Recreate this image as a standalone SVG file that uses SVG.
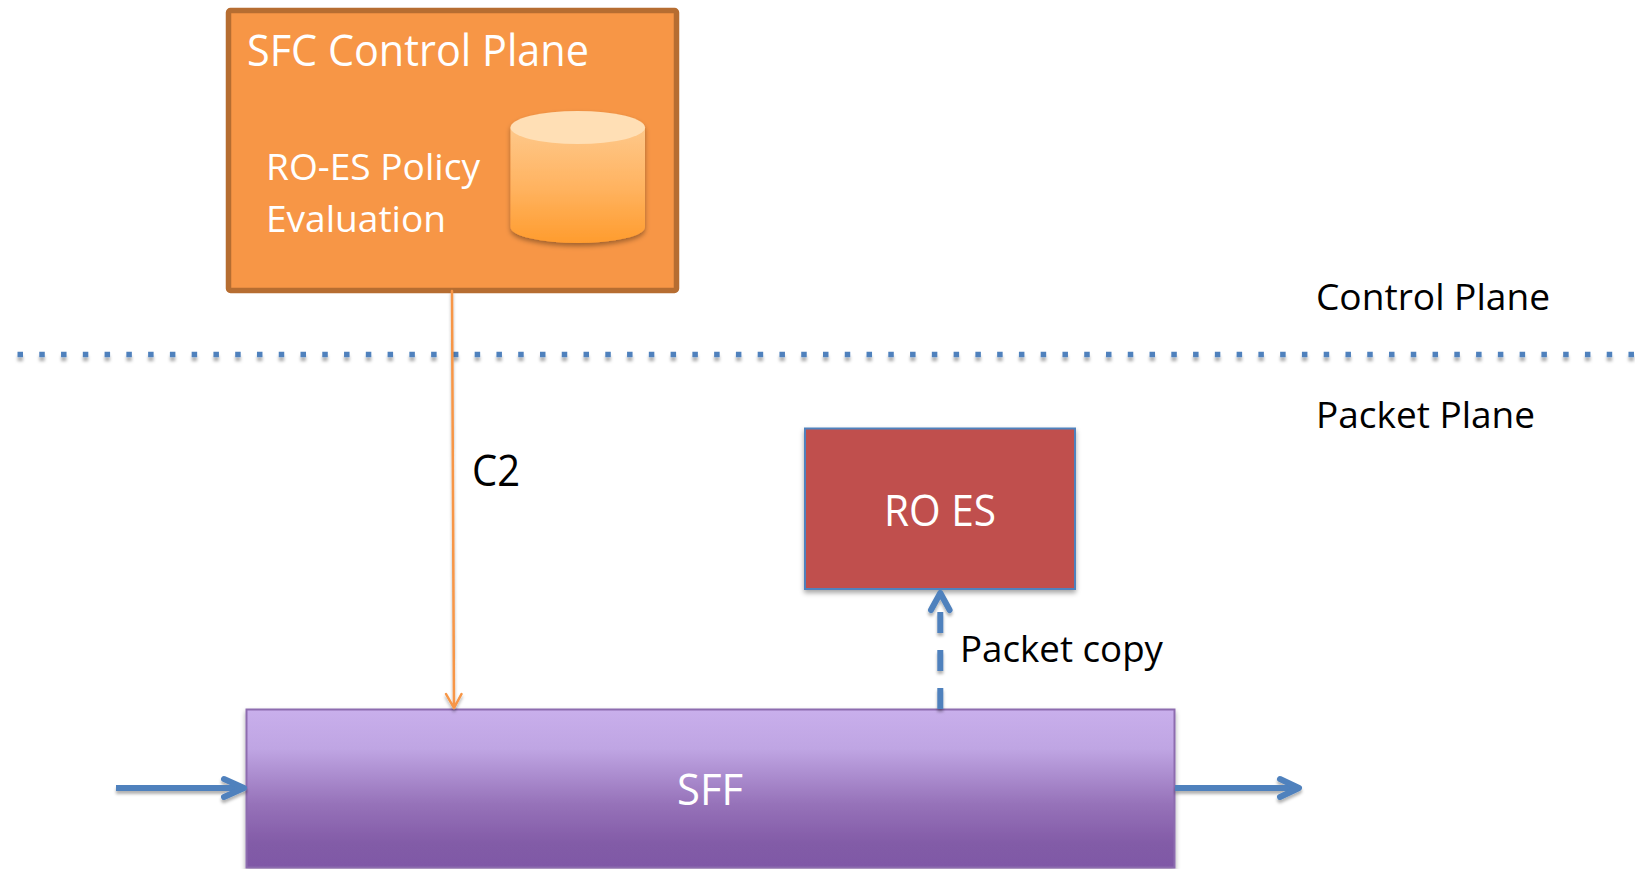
<svg xmlns="http://www.w3.org/2000/svg" width="1635" height="869" viewBox="0 0 1635 869">
<style>
text{font-family:"Open Sans","Noto Sans","Liberation Sans",sans-serif}
.w{fill:#fff}
.k{fill:#000}
.b{fill:none;stroke:#4F81BD;stroke-width:6;stroke-linecap:round;stroke-linejoin:round}
</style>
<defs>
<linearGradient id="sff" x1="0" y1="0" x2="0" y2="1"><stop offset="0" stop-color="#C9AFEC"/><stop offset="0.25" stop-color="#BFA5E3"/><stop offset="0.6" stop-color="#9672B9"/><stop offset="0.85" stop-color="#825BA7"/><stop offset="1" stop-color="#7F59A6"/></linearGradient>
<linearGradient id="cyl" x1="0" y1="0" x2="0" y2="1"><stop offset="0" stop-color="#FEC88A"/><stop offset="0.5" stop-color="#FFB462"/><stop offset="1" stop-color="#FF9C2E"/></linearGradient>
<filter id="sh" x="-10%" y="-10%" width="120%" height="125%"><feDropShadow dx="0" dy="3" stdDeviation="2.5" flood-color="#000" flood-opacity="0.35"/></filter>
<filter id="ls" filterUnits="userSpaceOnUse" x="0" y="280" width="1635" height="589"><feDropShadow dx="0" dy="3" stdDeviation="1.500" flood-color="#000" flood-opacity="0.3"/></filter>
<filter id="ds" filterUnits="userSpaceOnUse" x="0" y="340" width="1635" height="30"><feDropShadow dx="0" dy="4" stdDeviation="1.500" flood-color="#000" flood-opacity="0.3"/></filter>
</defs>
<g id="sfc-control-plane">
<rect x="228.500" y="10.500" width="448" height="280" rx="2" fill="#F79646" stroke="#B66D31" stroke-width="5.500"/>
<text class="w" x="247" y="65.500" font-size="44" textLength="342" lengthAdjust="spacingAndGlyphs">SFC Control Plane</text>
<text class="w" x="266" y="180" font-size="37" textLength="214" lengthAdjust="spacingAndGlyphs">RO-ES Policy</text>
<text class="w" x="266" y="232" font-size="37" textLength="180" lengthAdjust="spacingAndGlyphs">Evaluation</text>
<g id="policy-db" filter="url(#sh)">
<path d="M510.500 127.500V227A67 16 0 0 0 645 227V127.500Z" fill="url(#cyl)"/>
<ellipse cx="577.750" cy="127.500" rx="67.250" ry="16.500" fill="#FFDFB5"/>
</g>
</g>
<g id="ro-es">
<rect x="805" y="428.500" width="270" height="160.500" fill="#C0504D" stroke="#4F81BD" stroke-width="2" filter="url(#sh)"/>
<text class="w" x="884" y="525.500" font-size="44" textLength="112" lengthAdjust="spacingAndGlyphs">RO ES</text>
</g>
<g id="sff-node">
<rect x="246.500" y="709.500" width="928" height="158" fill="url(#sff)" stroke="#8D6CAF" stroke-width="2" filter="url(#sh)"/>
<text class="w" x="677" y="804.500" font-size="44" textLength="66" lengthAdjust="spacingAndGlyphs">SFF</text>
</g>
<g id="connectors">
<line x1="17.500" y1="354.500" x2="1635" y2="354.500" stroke="#4F81BD" stroke-width="5.500" stroke-dasharray="5.500 16.270" filter="url(#ds)"/>
<g filter="url(#ls)">
<path d="M452 291L454 708M446 694L454 708L461.500 694" fill="none" stroke="#F79646" stroke-width="2.500" stroke-linecap="round" stroke-linejoin="round"/>
</g>
<g filter="url(#ls)">
<path class="b" d="M116 788H244" style="stroke-linecap:butt"/>
<path class="b" d="M224 779L244 788L224 797"/>
</g>
<g filter="url(#ls)">
<path class="b" d="M1175 788H1299" style="stroke-linecap:butt"/>
<path class="b" d="M1280 779L1299 788L1280 797"/>
</g>
<g filter="url(#ls)">
<path class="b" d="M940.300 709V612" stroke-dasharray="21 17" style="stroke-linecap:butt"/>
<path class="b" d="M931 610L940.300 593L949.600 610"/>
</g>
</g>
<g id="labels">
<text class="k" x="1316" y="310" font-size="37" textLength="234" lengthAdjust="spacingAndGlyphs">Control Plane</text>
<text class="k" x="1316" y="427.500" font-size="37" textLength="219" lengthAdjust="spacingAndGlyphs">Packet Plane</text>
<text class="k" x="472" y="485.500" font-size="44" textLength="48" lengthAdjust="spacingAndGlyphs">C2</text>
<text class="k" x="960" y="662" font-size="37" textLength="203" lengthAdjust="spacingAndGlyphs">Packet copy</text>
</g>
</svg>
